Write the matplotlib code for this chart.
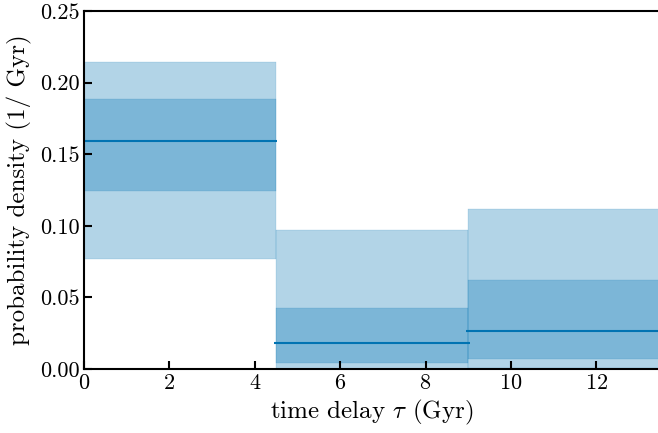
import numpy as np
import matplotlib
matplotlib.use('Agg')
import matplotlib.pyplot as plt

plt.rcParams['font.family'] = 'serif'
plt.rcParams['font.serif'] = ['cmr10']
plt.rcParams['mathtext.fontset'] = 'cm'
plt.rcParams['axes.formatter.use_mathtext'] = True

# bin edges of time delay (Gyr)
edges = [0.0, 4.5, 9.0, 13.5]
median = [0.159, 0.0185, 0.0268]
lo68 = [0.124, 0.0044, 0.0072]
hi68 = [0.1885, 0.0426, 0.0622]
lo95 = [0.0768, 0.0, 0.0005]
hi95 = [0.2144, 0.0971, 0.1117]

col = '#0173b2'

fig = plt.figure(figsize=(6.58, 4.33), dpi=100)
ax = fig.add_axes([84/658, 64/433, 1 - 84/658 + 0.001, (369 - 11)/433])

for i in range(len(median)):
    x = [edges[i], edges[i+1]]
    ax.fill_between(x, lo95[i], hi95[i], color=col, alpha=0.3, lw=0.3)
    ax.fill_between(x, lo68[i], hi68[i], color=col, alpha=0.3, lw=0.3)
    ax.hlines(median[i], edges[i] - 0.05, edges[i+1] + 0.03, color=col, lw=1.5)

ax.set_xlim(0, 13.46)
ax.set_ylim(0, 0.25)
ax.set_xticks([0, 2, 4, 6, 8, 10, 12])
ax.set_yticks([0.0, 0.05, 0.10, 0.15, 0.20, 0.25])
ax.set_yticklabels(['0.00', '0.05', '0.10', '0.15', '0.20', '0.25'])
ax.tick_params(direction='in', length=6, width=1.5, labelsize=16, pad=3)
for s in ['left', 'bottom', 'top']:
    ax.spines[s].set_linewidth(1.5)
ax.spines['right'].set_visible(False)

ax.set_xlabel(r'time delay $\tau$ (Gyr)', fontsize=18, labelpad=4)
ax.set_ylabel('probability density (1/ Gyr)', fontsize=18, labelpad=6)

fig.savefig('out.png', dpi=100)
